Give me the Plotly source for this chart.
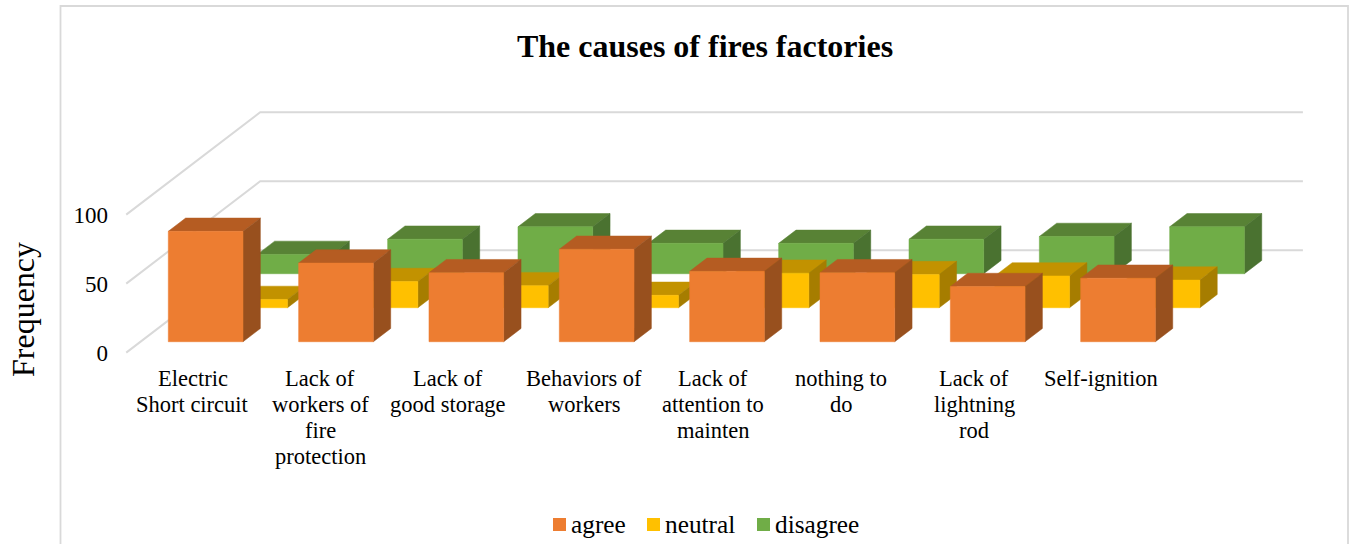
import plotly.graph_objects as go

# ---- data ----
categories = [
    ["Electric", "Short circuit"],
    ["Lack of", "workers of", "fire", "protection"],
    ["Lack of", "good storage"],
    ["Behaviors of", "workers"],
    ["Lack of", "attention to", "mainten"],
    ["nothing to", "do"],
    ["Lack of", "lightning", "rod"],
    ["Self-ignition"],
]
agree = [80, 57, 50, 67, 51, 50, 40, 46]
neutral = [6, 19, 16, 9, 25, 24, 23, 20]
disagree = [14, 25, 34, 22, 22, 25, 27, 34]
y_ticks = [0, 50, 100]
series_names = ["agree", "neutral", "disagree"]

# ---- styling: (front, top, side) ----
palette = {
    "agree": ("#ED7D31", "#B55C22", "#98501E"),
    "neutral": ("#FFC000", "#C29200", "#A67D00"),
    "disagree": ("#70AD47", "#588235", "#4A7230"),
}
FONT = "Liberation Serif"
W, H = 1349, 544
ML = 109

# oblique projection set-up (pixels per unit)
PX_CAT, PX_VAL = 130.34, 1.38
X0_PX, Y0_PX = 126.24, 352.6     # front corner of the floor
DX_PX, DY_PX = 44.5, 34.0        # one series step in depth
GAP = 0.2134                     # gap at each side of a bar, in category units
D_GAP, D_LEN = 0.32, 0.39        # gap in front of a bar and bar depth, in series units

x_range = [(ML - X0_PX) / PX_CAT, (W - X0_PX) / PX_CAT]
y_range = [(Y0_PX - H) / PX_VAL, Y0_PX / PX_VAL]


def proj(c, v, d):
    """category position, value, depth -> axis coordinates"""
    return c + d * DX_PX / PX_CAT, v + d * DY_PX / PX_VAL


def poly(points):
    pts = [proj(*p) for p in points] + [proj(*points[0])]
    return [p[0] for p in pts], [p[1] for p in pts]


def paper_x(px):
    return (px - ML) / (W - ML)


def paper_y(py):
    return 1 - py / H


fig = go.Figure()


def face(points, color, name, group):
    xs, ys = poly(points)
    fig.add_trace(go.Scatter(
        x=xs, y=ys, mode="lines", fill="toself", fillcolor=color,
        line=dict(color=color, width=0.5), name=name, legendgroup=group,
        showlegend=False, hoverinfo="skip",
    ))


# walls: gridlines
for t in y_ticks:
    xs, ys = poly([(0, t, 0), (0, t, 3.01), (8, t, 3.01)])
    xs, ys = xs[:3], ys[:3]
    fig.add_trace(go.Scatter(
        x=xs, y=ys, mode="lines", line=dict(color="#D9D9D9", width=2),
        showlegend=False, hoverinfo="skip", name="grid",
    ))

# bars, back to front
series_values = {"agree": agree, "neutral": neutral, "disagree": disagree}
for s in reversed(range(3)):
    name = series_names[s]
    front, top, side = palette[name]
    for i, v in enumerate(series_values[name]):
        x1, x2 = i + GAP, i + 1 - GAP
        d1, d2 = s + D_GAP, s + D_GAP + D_LEN
        face([(x1, v, d1), (x2, v, d1), (x2, v, d2), (x1, v, d2)], top, name, name)
        face([(x2, 0, d1), (x2, 0, d2), (x2, v, d2), (x2, v, d1)], side, name, name)
        face([(x1, 0, d1), (x2, 0, d1), (x2, v, d1), (x1, v, d1)], front, name, name)

annotations = []

# category labels, one annotation per wrapped line
label_centres = [192.5, 320.3, 447.6, 583.7, 713.3, 841, 974, 1101.4]
LINE_Y = [378, 404, 430, 456]
for cx, lines in zip(label_centres, categories):
    for k, text in enumerate(lines):
        annotations.append(dict(
            text=text, x=paper_x(cx), y=paper_y(LINE_Y[k]), xref="paper", yref="paper",
            xanchor="center", yanchor="middle", showarrow=False,
            font=dict(family=FONT, size=22.5, color="#000000"),
        ))

# value-axis title
annotations.append(dict(
    text="Frequency", x=paper_x(23), y=paper_y(310), xref="paper", yref="paper",
    xanchor="center", yanchor="middle", textangle=-90, showarrow=False,
    font=dict(family=FONT, size=32, color="#000000"),
))

# legend row
legend_px = [559.5, 653.5, 763.5]
legend_text_px = [569, 663, 773]
for name, lx, tx in zip(series_names, legend_px, legend_text_px):
    lxd = (lx - X0_PX) / PX_CAT
    lyd = (Y0_PX - 524.5) / PX_VAL
    fig.add_trace(go.Scatter(
        x=[lxd], y=[lyd], mode="markers", name=name,
        showlegend=False, hoverinfo="skip",
        marker=dict(symbol="square", size=13, color=palette[name][0]),
        cliponaxis=False,
    ))
    annotations.append(dict(
        text=name, x=paper_x(tx), y=paper_y(523.5), xref="paper", yref="paper",
        xanchor="left", yanchor="middle", showarrow=False,
        font=dict(family=FONT, size=25.3, color="#000000"),
    ))

# chart frame
frame = dict(type="path", xref="paper", yref="paper",
             path=f"M {paper_x(60.5)} -0.01 L {paper_x(60.5)} {paper_y(6)} "
                  f"L {paper_x(1348)} {paper_y(6)} L {paper_x(1348)} -0.01",
             line=dict(color="#D9D9D9", width=1.8))

fig.update_layout(
    width=W, height=H, autosize=False,
    margin=dict(l=ML, r=0, t=0, b=0, pad=0),
    paper_bgcolor="#FFFFFF", plot_bgcolor="rgba(0,0,0,0)",
    showlegend=False, hovermode=False,
    title=dict(text="<b>The causes of fires factories</b>",
               x=705 / W, xref="container", xanchor="center",
               y=1 - 46 / H, yref="container", yanchor="middle",
               font=dict(family=FONT, size=32, color="#000000")),
    xaxis=dict(range=x_range, visible=False, fixedrange=True),
    yaxis=dict(range=y_range, tickmode="array", tickvals=y_ticks,
               ticktext=[str(t) for t in y_ticks], ticks="", showgrid=False,
               zeroline=False, showline=False, fixedrange=True,
               tickfont=dict(family=FONT, size=23, color="#000000")),
    annotations=annotations,
    shapes=[frame],
)

fig.write_html(
    "out.html",
    config={"displayModeBar": False},
    post_script="document.body.style.margin='0';document.body.style.overflow='hidden';",
)
